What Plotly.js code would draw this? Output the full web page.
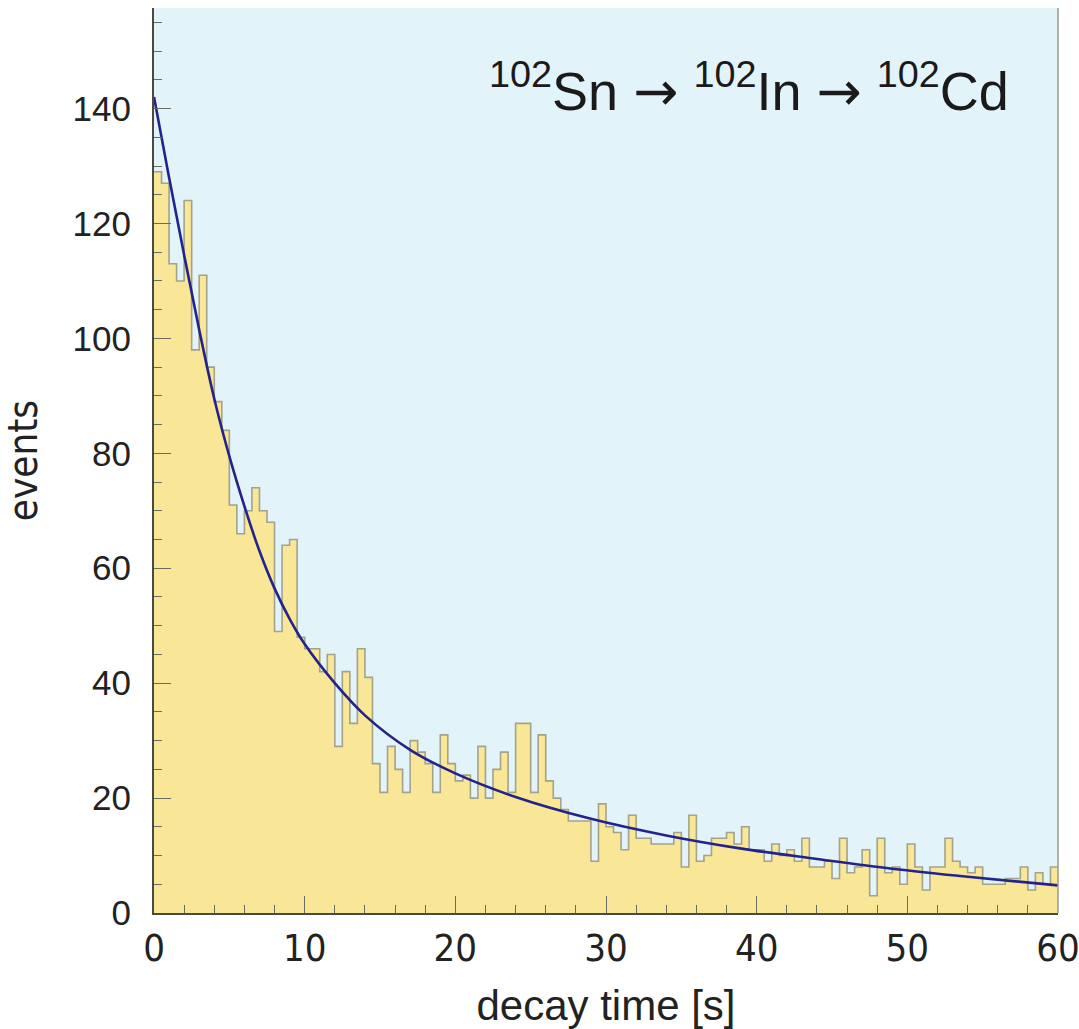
<!DOCTYPE html>
<html>
<head>
<meta charset="utf-8">
<script src="https://cdn.plot.ly/plotly-3.0.1.min.js"></script>
<style>
  html, body { margin: 0; padding: 0; background: #ffffff; }
  #chart { width: 1079px; height: 1029px; }
</style>
</head>
<body>
<div id="chart"></div>
<script>
// Histogram: counts per 0.5 s bin, from 0 s to 60 s
const binWidth = 0.5;
const counts = [
  129, 127, 113, 110, 124, 98, 111, 95, 89, 84,
  71, 66, 70, 74, 70, 68, 49, 64, 65, 48,
  46, 46, 42, 45, 29, 42, 33, 46, 41, 26,
  21, 29, 25, 21, 30, 28, 26, 21, 31, 26,
  23, 24, 20, 29, 20, 25, 28, 21, 33, 33,
  21, 31, 23, 20, 18, 16, 16, 16, 9, 19,
  15, 14, 11, 17, 13, 13, 12, 12, 12, 14,
  8, 17, 9, 10, 13, 13, 14, 12, 15, 11,
  11, 9, 12, 10, 11, 9, 13, 8, 8, 9,
  6, 13, 7, 8, 11, 3, 13, 7, 8, 5,
  12, 8, 4, 8, 8, 13, 9, 8, 7, 8,
  5, 5, 5, 6, 6, 8, 4, 7, 5, 8
];

// Fit curve
const fitTime   = [0, 1, 2, 3, 4, 5, 6, 7, 8, 9, 10, 12, 14, 17, 20, 24, 29, 34, 39, 44, 49, 54, 60];
const fitEvents = [142, 128, 114.5, 101.5, 89.5, 79.5, 70.8, 63, 56.5, 51.2, 46.8, 40, 34.4, 28.4, 24.3, 20.2, 16.4, 13.5, 11.2, 9.4, 7.7, 6.3, 4.8];

// Axis tick values / labels
const xTickVals = [0, 10, 20, 30, 40, 50, 60];
const yTickVals = [0, 20, 40, 60, 80, 100, 120, 140];

const arrow = "<span style=\"font-family:'DejaVu Sans'\">\u2192</span>";
const titleText = "<sup>102</sup>Sn " + arrow + " <sup>102</sup>In " + arrow + " <sup>102</sup>Cd";
const xTitle = "decay time [s]";
const yTitle = "events";

// Step outline built from bin edges
const stepX = counts.map((c, i) => i * binWidth);
stepX.push(counts.length * binWidth);
const stepY = counts.slice();
stepY.push(counts[counts.length - 1]);

const histTrace = {
  type: 'scatter',
  mode: 'lines',
  x: stepX,
  y: stepY,
  line: { shape: 'hv', color: '#A3A38A', width: 1.6 },
  fill: 'tozeroy',
  fillcolor: '#F9E697',
  hoverinfo: 'skip',
  showlegend: false
};

const fitTrace = {
  type: 'scatter',
  mode: 'lines',
  x: fitTime,
  y: fitEvents,
  line: { shape: 'spline', smoothing: 1, color: '#23238A', width: 2.6 },
  showlegend: false
};

const layout = {
  width: 1079,
  height: 1029,
  margin: { l: 154, r: 21, t: 8, b: 116 },
  paper_bgcolor: '#ffffff',
  plot_bgcolor: '#E3F3FA',
  showlegend: false,
  xaxis: {
    range: [0, 60],
    tickmode: 'array',
    tickvals: xTickVals,
    ticks: 'inside',
    ticklen: 17,
    tickwidth: 1,
    tickcolor: '#6b6b60',
    minor: { dtick: 2, tick0: 0, ticks: 'inside', ticklen: 8, tickcolor: '#6b6b60', tickwidth: 1 },
    showgrid: false,
    zeroline: false,
    showline: true,
    linecolor: '#4a4a40',
    linewidth: 2,
    ticklabelstandoff: 0,
    ticklabeloverflow: 'allow',
    tickfont: { family: 'Liberation Sans Narrow, DejaVu Sans Condensed, Liberation Sans, Arial, sans-serif', size: 38, color: '#222222' },
    title: { text: xTitle, standoff: 26, font: { family: 'Liberation Sans, Arial, sans-serif', size: 42, color: '#222222' } },
    automargin: false
  },
  yaxis: {
    range: [0, 157.5],
    tickmode: 'array',
    tickvals: yTickVals,
    ticks: 'inside',
    ticklen: 17,
    tickwidth: 1,
    tickcolor: '#6b6b60',
    minor: { dtick: 5, tick0: 0, ticks: 'inside', ticklen: 8, tickcolor: '#6b6b60', tickwidth: 1 },
    showgrid: false,
    zeroline: false,
    showline: true,
    linecolor: '#4a4a40',
    linewidth: 2,
    ticklabelstandoff: 14,
    tickfont: { family: 'Liberation Sans, Arial, sans-serif', size: 35, color: '#222222' },
    title: { text: yTitle, standoff: 26, font: { family: 'Liberation Sans Narrow, DejaVu Sans Condensed, Liberation Sans, Arial, sans-serif', size: 40, color: '#222222' } },
    automargin: false
  },
  shapes: [
    { type: 'line', xref: 'paper', yref: 'paper', x0: 1, x1: 1, y0: 0, y1: 1, line: { color: '#9a9a90', width: 1.5 } }
  ],
  annotations: [
    {
      text: titleText,
      xref: 'paper', yref: 'paper',
      x: 0.948, y: 0.912,
      xanchor: 'right', yanchor: 'middle',
      showarrow: false,
      font: { family: 'Liberation Sans, Arial, sans-serif', size: 54, color: '#1a1a1a' }
    }
  ]
};

Plotly.newPlot('chart', [histTrace, fitTrace], layout, { displayModeBar: false, staticPlot: true });
</script>
</body>
</html>
